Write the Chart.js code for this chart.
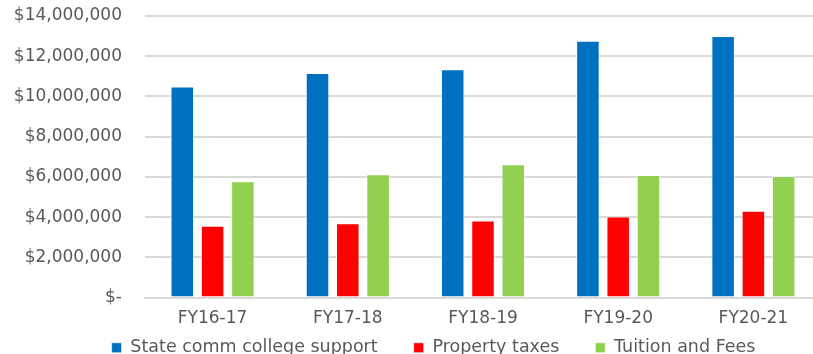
<!DOCTYPE html>
<html><head><meta charset="utf-8">
<script src="https://cdn.jsdelivr.net/npm/chart.js@4"></script>
<style>html,body{margin:0;padding:0;overflow:hidden;background:#fff}#wrap{width:821px;height:354px;position:relative}</style>
</head><body><div id="wrap"><canvas id="c"></canvas></div>
<script>
const categories = ["FY16-17","FY17-18","FY18-19","FY19-20","FY20-21"];
const stateSupport = [10500000,11170000,11350000,12770000,13000000];
const propertyTaxes = [3570000,3700000,3830000,4030000,4320000];
const tuitionFees = [5780000,6130000,6630000,6100000,6050000];
const seriesNames = ["State comm college support","Property taxes","Tuition and Fees"];
const FONT = "'DejaVu Sans', sans-serif";
const TXT = '#595959';
const LEG_PAD = 36;
const ds = (label, data, color) => ({label, data, backgroundColor: color, borderColor: 'rgba(255,255,255,0.6)', borderWidth: 1, categoryPercentage: 0.672, barPercentage: 0.777});
const legendTweak = {
  id: 'legendTweak',
  afterInit(chart) {
    const lg = chart.legend;
    if (!lg) return;
    const of = lg.fit.bind(lg);
    lg.fit = function () { of(); this.height = 14; };
    const od = lg.draw.bind(lg);
    lg.draw = function () {
      const s = {top: this.top, bottom: this.bottom, left: this.left, right: this.right};
      this.top -= 37; this.bottom = s.bottom + 40; this.left += 23; this.right += 23;
      od();
      Object.assign(this, s);
    };
  }
};
new Chart(document.getElementById('c'), {
  type: 'bar',
  data: { labels: categories, datasets: [
    ds(seriesNames[0], stateSupport, '#0070C0'),
    ds(seriesNames[1], propertyTaxes, '#FF0000'),
    ds(seriesNames[2], tuitionFees, '#92D050')
  ]},
  plugins: [legendTweak],
  options: {
    responsive: true, maintainAspectRatio: false, animation: false,
    layout: { padding: { top: 16, right: 0, left: 0, bottom: 0 } },
    plugins: {
      legend: { position: 'bottom', labels: { font: { family: FONT, size: 17.5 }, color: TXT, boxWidth: 10, boxHeight: 10, padding: LEG_PAD } },
      tooltip: { enabled: false }
    },
    scales: {
      x: { grid: { display: false, drawTicks: false }, border: { color: '#d9d9d9', width: 2 },
           ticks: { font: { family: FONT, size: 17 }, color: TXT, padding: 11 } },
      y: { min: 0, max: 14000000,
           grid: { color: '#d9d9d9', lineWidth: 2, drawTicks: true, tickLength: 23, tickColor: 'rgba(0,0,0,0)' },
           border: { display: false },
           afterFit: s => { s.width = 145; },
           ticks: { stepSize: 2000000, padding: 0, font: { family: FONT, size: 17 }, color: TXT,
             callback: v => v === 0 ? '$-' : '$' + v.toLocaleString('en-US') } }
    }
  }
});
</script></body></html>
